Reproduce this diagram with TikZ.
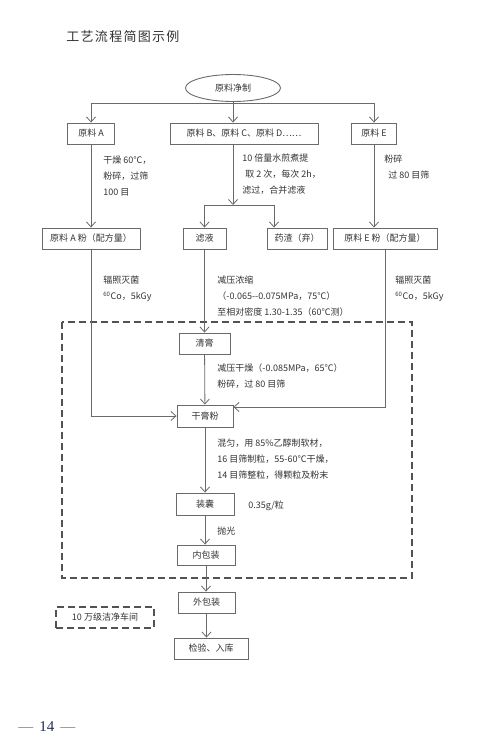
\documentclass[tikz,border=0pt]{standalone}
\usepackage{fontspec}
\setmainfont{Liberation Serif}
\newfontfamily\cjk{Noto Sans CJK SC}
\newfontfamily\cjktitle[LetterSpace=10]{Noto Sans CJK SC}
\usetikzlibrary{arrows.meta,shapes.geometric}
\definecolor{linegray}{HTML}{6A6A6A}
\definecolor{ink}{HTML}{333333}
\definecolor{pagenum}{HTML}{1F2F55}

\begin{document}
\begin{tikzpicture}[x=1pt,y=-1pt,line width=0.8pt,>={Straight Barb[length=5pt,width=9pt]},
  box/.style={draw=linegray,line width=0.9pt,inner sep=0pt,minimum height=21pt,
    text=ink,font=\cjk\fontsize{9}{11}\selectfont},
  note/.style={anchor=north west,align=left,inner sep=0pt,text=ink,
    font=\cjk\fontsize{9}{16}\selectfont},
  flow/.style={draw=linegray,line width=0.8pt}]
\useasboundingbox (0,0) rectangle (480,742);
% main column
\def\colx{205}
% ---------- title ----------
\node[anchor=west,inner sep=0pt,text=ink,font=\cjktitle\fontsize{13}{15}\selectfont] (title) at (66,37) {工艺流程简图示例};
% ---------- raw materials ----------
\node[box,ellipse,minimum width=95pt,minimum height=27pt] (prep) at (233,88) {原料净制};
\node[box,minimum width=47pt] (rawA) at (91,133.5) {原料 A};
\node[box,minimum width=148pt] (rawB) at (244,133.5) {原料 B、原料 C、原料 D……};
\node[box,minimum width=45pt] (rawE) at (374,133.5) {原料 E};
\coordinate (split) at (233,103);
\draw[flow] (prep) -- (split);
\draw[flow] (rawA |- split) -- (rawE |- split);
\draw[flow,->] (rawA |- split) -- (rawA);
\draw[flow,->] (split) -- (split |- rawB.north);
\draw[flow,->] (rawE |- split) -- (rawE);
% ---------- powders and extract ----------
\node[box,minimum width=98pt] (powA) at (91,238.5) {原料 A 粉（配方量）};
\node[box,minimum width=43pt] (filt) at (204.5,238.5) {滤液};
\node[box,minimum width=60pt] (dreg) at (297,238.5) {药渣（弃）};
\node[box,minimum width=104pt] (powE) at (385,238.5) {原料 E 粉（配方量）};
\node[note] (noteA) at (103,156) {干燥 60℃，\\粉碎，过筛\\100 目};
\node[note] (noteB) at (242,153) {10 倍量水煎煮提\\\hspace{3pt}取 2 次，每次 2h，\\滤过，合并滤液};
\node[note] (noteE) at (384,155) {粉碎\\\hspace{4pt}过 80 目筛};
\coordinate (bL) at (204.5,205);
\coordinate (bR) at (274,205);
\draw[flow,->] (rawA) -- (powA);
\draw[flow,->] (split |- rawB.south) -- (split |- bL);
\draw[flow] (bL) -- (bR);
\draw[flow,->] (bL) -- (filt);
\draw[flow,->] (bR) -- (bR |- dreg.north);
\draw[flow,->] (rawE) -- (rawE |- powE.north);
% ---------- sterilising and concentrating ----------
\node[note] (sterA) at (103,276) {辐照灭菌\\\textsuperscript{60}Co，5kGy};
\node[note] (conc) at (217,276) {减压浓缩\\（-0.065--0.075MPa，75℃）\\至相对密度 1.30-1.35（60℃测）};
\node[note] (sterE) at (395,276) {辐照灭菌\\\textsuperscript{60}Co，5kGy};
% ---------- clean room ----------
\draw[draw=ink!85,line width=1.3pt,dash pattern=on 7pt off 4pt] (62,322) rectangle (412,578);
\node[box,minimum width=51pt] (paste) at (204.5,343.5) {清膏};
\node[box,minimum width=56pt,minimum height=22pt] (dry) at (\colx,416) {干膏粉};
\node[note] (vac) at (217,363) {减压干燥（-0.085MPa，65℃）\\粉碎，过 80 目筛};
\node[note] (gran) at (217,438) {混匀，用 85\%乙醇制软材，\\16 目筛制粒，55-60℃干燥，\\14 目筛整粒，得颗粒及粉末};
\node[box,minimum width=58pt,minimum height=22pt] (caps) at (\colx,504) {装囊};
\node[anchor=west,inner sep=0pt,text=ink,font=\cjk\fontsize{9}{11}\selectfont] (dose) at (248,506) {0.35g/粒};
\node[anchor=west,inner sep=0pt,text=ink,font=\cjk\fontsize{9}{11}\selectfont] (polish) at (217,531) {抛光};
\node[box,minimum width=58pt,minimum height=20pt] (inner) at (206,555) {内包装};
\draw[flow,->] (filt) -- (paste);
\draw[flow,->] (paste) -- (dry);
\draw[flow,->] (powA) |- (dry);
\draw[flow,->] (powE) |- ([yshift=9pt]dry.east);
\draw[flow,->] (dry) -- (caps);
\draw[flow,->] (caps) -- (caps |- inner.north);
% ---------- packing ----------
\node[box,minimum width=57pt] (outer) at (206.5,602.5) {外包装};
\node[box,minimum width=74pt] (check) at (211,648.5) {检验、入库};
\draw[flow,->] (inner) -- (inner |- outer.north);
\draw[flow,->] (outer) -- (outer |- check.north);
\node[box,draw=ink!85,line width=1.3pt,dash pattern=on 7pt off 4pt,minimum width=98pt] (legend) at (105,617.5) {10 万级洁净车间};
% ---------- page number ----------
\node[anchor=west,inner sep=0pt,font=\fontsize{15}{17}\selectfont] (page) at (18,727)
  {{\color{gray}—}\hspace{6pt}{\color{pagenum}14}\hspace{6pt}{\color{gray}—}};
\end{tikzpicture}
\end{document}
